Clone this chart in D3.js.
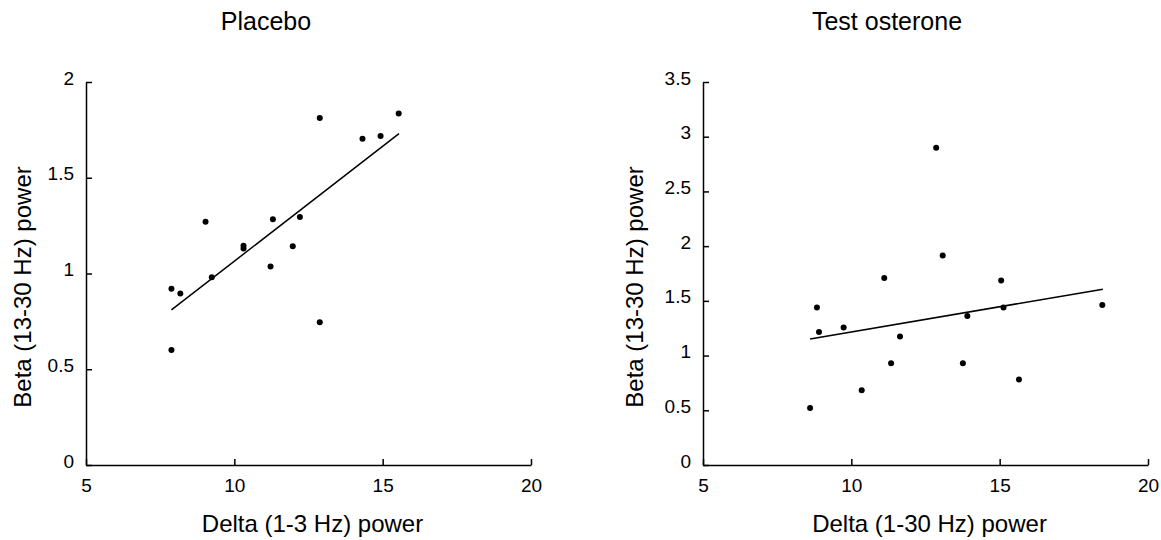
<!DOCTYPE html>
<meta charset="utf-8">
<head>
  <title>Delta vs Beta power</title>
  <script src="https://d3js.org/d3.v7.min.js"></script>
</head>
<style>
body { margin: 0; background: #fff; }
svg text { font-family: "Liberation Sans", Arial, sans-serif; fill: #000; }
.axis path, .axis line { stroke: #000; stroke-width: 1.5px; }
.axis text { font-size: 19px; }
.fit { stroke: #000; stroke-width: 1.5px; fill: none; }
</style>
<body>
<script>

// Placebo panel
var placeboDelta = [7.88, 7.88, 8.18, 9.03, 9.24, 10.31, 10.31, 11.22, 11.30, 11.97, 12.21, 12.88, 12.88, 14.32, 14.93, 15.54];
var placeboBeta  = [0.60, 0.92, 0.895, 1.27, 0.98, 1.145, 1.13, 1.036, 1.283, 1.142, 1.295, 1.812, 0.745, 1.704, 1.718, 1.836];
var placeboFit   = [[7.88, 0.81], [15.55, 1.73]];

// Testosterone panel
var testoDelta = [8.61, 8.84, 8.91, 9.74, 10.35, 11.11, 11.34, 11.64, 12.86, 13.08, 13.76, 13.91, 15.05, 15.13, 15.65, 18.46];
var testoBeta  = [0.52, 1.44, 1.215, 1.257, 0.682, 1.708, 0.929, 1.175, 2.90, 1.915, 0.929, 1.361, 1.687, 1.44, 0.782, 1.461];
var testoFit   = [[8.61, 1.151], [18.48, 1.607]];

var xTicks = [5, 10, 15, 20];
var placeboYTicks = [0, 0.5, 1, 1.5, 2];
var testoYTicks = [0, 0.5, 1, 1.5, 2, 2.5, 3, 3.5];

var panels = [
  { title: "Placebo", xLabel: "Delta (1-3 Hz) power", delta: placeboDelta, beta: placeboBeta,
    fit: placeboFit, yTicks: placeboYTicks, yMax: 2, left: 86, titleX: 266, yLabelX: 31 },
  { title: "Test osterone", xLabel: "Delta (1-30 Hz) power", delta: testoDelta, beta: testoBeta,
    fit: testoFit, yTicks: testoYTicks, yMax: 3.5, left: 703, titleX: 887, yLabelX: 643 }
];

var width = 1161,
    height = 540,
    plotW = 445,
    plotTop = 82,
    plotBottom = 465;

var svg = d3.select("body").append("svg")
    .attr("width", width)
    .attr("height", height);

panels.forEach(function(p) {
  var x = d3.scaleLinear().domain([5, 20]).range([p.left, p.left + plotW]);
  var y = d3.scaleLinear().domain([0, p.yMax]).range([plotBottom, plotTop]);

  var g = svg.append("g");

  var xAxis = g.append("g")
      .attr("class", "axis")
      .attr("transform", "translate(0," + plotBottom + ")")
      .call(d3.axisBottom(x).tickValues(xTicks).tickSizeInner(-6).tickSizeOuter(0).tickPadding(14));
  xAxis.selectAll("text").attr("dy", "0.71em").attr("y", 14);

  var yAxis = g.append("g")
      .attr("class", "axis")
      .attr("transform", "translate(" + p.left + ",0)")
      .call(d3.axisLeft(y).tickValues(p.yTicks).tickFormat(function(d) { return d; })
        .tickSizeInner(-6).tickSizeOuter(0).tickPadding(12));
  yAxis.selectAll("text").attr("y", -4);

  g.append("path")
      .attr("class", "fit")
      .attr("d", d3.line()
        .x(function(d) { return x(d[0]); })
        .y(function(d) { return y(d[1]); })(p.fit));

  g.append("g").selectAll("circle")
      .data(d3.range(p.delta.length))
    .enter().append("circle")
      .attr("cx", function(i) { return x(p.delta[i]); })
      .attr("cy", function(i) { return y(p.beta[i]); })
      .attr("r", 3)
      .attr("fill", "#000");

  g.append("text")
      .attr("x", p.titleX)
      .attr("y", 30)
      .attr("text-anchor", "middle")
      .style("font-size", "25px")
      .text(p.title);

  g.append("text")
      .attr("x", p.left + plotW / 2 + 4)
      .attr("y", 532)
      .attr("text-anchor", "middle")
      .style("font-size", "24px")
      .text(p.xLabel);

  g.append("text")
      .attr("transform", "translate(" + p.yLabelX + ",287) rotate(-90)")
      .attr("text-anchor", "middle")
      .style("font-size", "24px")
      .text("Beta (13-30 Hz) power");
});

</script>
</body>
